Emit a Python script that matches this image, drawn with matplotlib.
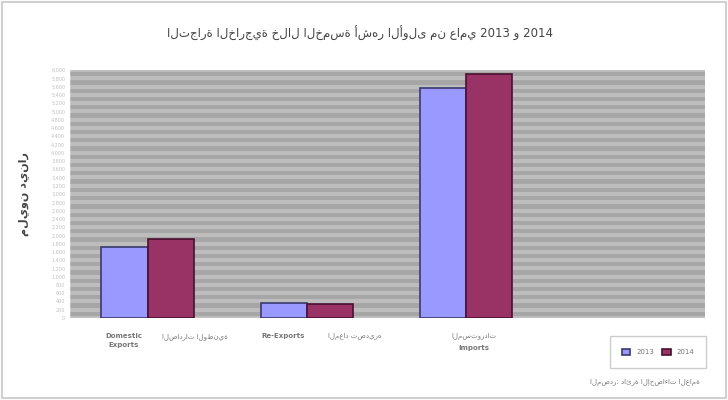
import numpy as np
import matplotlib.pyplot as plt
from matplotlib.patches import Rectangle

# data (million JD)
categories = ["Domestic\nExports", "Re-Exports", "Imports"]
categories_ar = ["الصادرات الوطنية", "المعاد تصديره", "المستوردات"]
vals_2013 = [1720, 365, 5560]
vals_2014 = [1910, 340, 5900]
series_names = ["2013", "2014"]

title = "التجارة الخارجية خلال الخمسة أشهر الأولى من عامي 2013 و 2014"
ylabel = "مليون دينار"
source = "المصدر: دائرة الإحصاءات العامة"

plt.rcParams['font.family'] = ['DejaVu Sans']

fig = plt.figure(figsize=(7.28, 4), dpi=100)
fig.patch.set_facecolor("white")
fig.add_artist(Rectangle((0.003, 0.005), 0.994, 0.99, transform=fig.transFigure,
                         fill=False, edgecolor="#d0d0d0", lw=1.5))

ax = fig.add_axes([68/728, 1 - 318/400, 637/728, 248/400])
ax.set_facecolor("#a6a6a6")

x = np.arange(len(categories))
w = 0.29
ax.bar(x - w/2, vals_2013, w, color="#9999ff", edgecolor="#3a3a6e", lw=1.2,
       label=series_names[0], zorder=3)
ax.bar(x + w/2, vals_2014, w, color="#993366", edgecolor="#4a1030", lw=1.2,
       label=series_names[1], zorder=3)

ax.set_xlim(-0.5, 3.5)
ax.set_ylim(0, 6000)
ax.set_yticks(np.arange(0, 6001, 200))
ax.set_yticklabels([f"{v:,}" for v in range(0, 6001, 200)], fontsize=3.5, color="#c0c0c0")
ax.yaxis.grid(True, color="#bdbdbd", lw=3, zorder=0)
ax.set_xticks([])
ax.tick_params(axis="y", length=0, pad=2)
for s in ax.spines.values():
    s.set_visible(False)
ax.axvline(-0.5, color="white", lw=2.5)

ax.set_ylabel(ylabel, fontsize=8, fontweight="bold", color="#444444", labelpad=16)

for i, (en, ar) in enumerate(zip(categories, categories_ar)):
    if i == 2:
        ax.text(i + 0.05, -0.06, ar, transform=ax.get_xaxis_transform(),
                ha="center", va="top", fontsize=5, color="#777777")
        ax.text(i + 0.05, -0.11, en, transform=ax.get_xaxis_transform(),
                ha="center", va="top", fontsize=5, color="#777777", fontweight="bold")
    else:
        ax.text(i - 0.15, -0.06, en, transform=ax.get_xaxis_transform(),
                ha="center", va="top", fontsize=5, color="#777777", fontweight="bold",
                linespacing=1.6)
        ax.text(i + 0.3, -0.06, ar, transform=ax.get_xaxis_transform(),
                ha="center", va="top", fontsize=5, color="#777777")

fig.text(360/728, 1 - 33/400, title, ha="center", va="center", fontsize=8.5, color="#444444")

leg = fig.legend(loc="center", bbox_to_anchor=(658/728, 1 - 352/400), ncol=2,
                 fontsize=5, frameon=True, fancybox=False, edgecolor="#c0c0c0",
                 handlelength=1.2, handleheight=1.0, borderpad=1.8, columnspacing=1.2)
for t in leg.get_texts():
    t.set_color("#777777")

fig.text(700/728, 1 - 383/400, source, ha="right", va="center", fontsize=5, color="#777777")

fig.savefig("out.png", dpi=100)
